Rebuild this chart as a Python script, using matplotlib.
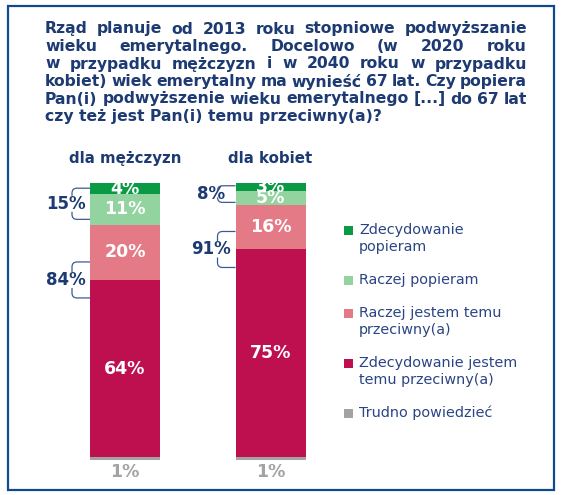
import matplotlib
matplotlib.use("Agg")
import matplotlib.pyplot as plt
from matplotlib.patches import Rectangle, PathPatch
from matplotlib.path import Path

# ---------------- data ----------------
groups = ["dla mężczyzn", "dla kobiet"]
strongly_support = [4, 3]
rather_support = [11, 5]
rather_against = [20, 16]
strongly_against = [64, 75]
hard_to_say = [1, 1]
support_total = [15, 8]
against_total = [84, 91]

legend_labels = ["Zdecydowanie\npopieram", "Raczej popieram",
                 "Raczej jestem temu\nprzeciwny(a)",
                 "Zdecydowanie jestem\ntemu przeciwny(a)", "Trudno powiedzieć"]

title_lines = [
    "Rząd planuje od 2013 roku stopniowe podwyższanie",
    "wieku emerytalnego. Docelowo (w 2020 roku",
    "w przypadku mężczyzn i w 2040 roku w przypadku",
    "kobiet) wiek emerytalny ma wynieść 67 lat. Czy popiera",
    "Pan(i) podwyższenie wieku emerytalnego [...] do 67 lat",
    "czy też jest Pan(i) temu przeciwny(a)?",
]

# ---------------- style ----------------
W, H, DPI = 563, 495, 100
C_DGREEN = "#0A9A46"
C_LGREEN = "#93D3A0"
C_PINK = "#E37A86"
C_CRIMSON = "#BE0F4E"
C_GRAY = "#A3A3A3"
NAVY = "#1D3B72"
LEG_TXT = "#2B4584"

plt.rcParams['font.family'] = ['DejaVu Sans']

fig = plt.figure(figsize=(W / DPI, H / DPI), dpi=DPI)
fig.patch.set_facecolor("white")


def fx(x):
    return x / W


def fy(y):
    return 1 - y / H


# frame
fig.add_artist(Rectangle((fx(8), fy(490)), (554 - 8) / W, (490 - 6) / H,
                         transform=fig.transFigure, fill=False,
                         edgecolor="#0E4A8E", lw=1.6))

# axes: bars from pixel y 183 (100%) to 460 (0%)
ax_left, ax_right = 40, 330
ax_top, ax_bot = 183, 460
ax = fig.add_axes([fx(ax_left), fy(ax_bot), (ax_right - ax_left) / W,
                   (ax_bot - ax_top) / H])
px_per_unit = 145.5
c0 = 125
ax.set_xlim(-(c0 - ax_left) / px_per_unit, (ax_right - c0) / px_per_unit)
ax.set_ylim(0, 100)
ax.axis("off")

x = [0, 1]
bw = 70 / px_per_unit
stack = [(hard_to_say, C_GRAY), (strongly_against, C_CRIMSON),
         (rather_against, C_PINK), (rather_support, C_LGREEN),
         (strongly_support, C_DGREEN)]
bottoms = [0, 0]
seg_bounds = []
for vals, col in stack:
    ax.bar(x, vals, width=bw, bottom=bottoms, color=col, edgecolor="none")
    seg_bounds.append([(b, b + v) for b, v in zip(bottoms, vals)])
    bottoms = [b + v for b, v in zip(bottoms, vals)]

# in-bar labels (skip the gray 1% one)
for si, (vals, col) in enumerate(stack):
    if si == 0:
        continue
    for i in range(2):
        lo, hi = seg_bounds[si][i]
        ax.text(x[i], (lo + hi) / 2, f"{vals[i]}%", ha="center", va="center",
                color="white", fontsize=12.5, fontweight="bold", clip_on=False)

# 1% labels below bars
for i in range(2):
    ax.annotate(f"{hard_to_say[i]}%", xy=(x[i], 0), xytext=(0, -12),
                textcoords="offset pixels", ha="center", va="center",
                color=C_GRAY, fontsize=12.5, fontweight="bold",
                annotation_clip=False)

# group titles
for i in range(2):
    ax.annotate(groups[i], xy=(x[i], 100), xytext=(0, 24),
                textcoords="offset pixels", ha="center", va="center",
                color=NAVY, fontsize=10.8, fontweight="bold",
                annotation_clip=False)


# brackets
def bracket(i, center, half_px, label):
    xl_d, yc_d = ax.transData.transform((x[i] - bw / 2, center))
    yt = yc_d + half_px
    yb = yc_d - half_px
    xc = xl_d - 18
    r = 5
    gap = 8
    verts = [(xl_d, yt), (xc + r, yt), (xc, yt), (xc, yt - r)]
    codes = [Path.MOVETO, Path.LINETO, Path.CURVE3, Path.CURVE3]
    if yt - r > yc_d + gap:
        verts.append((xc, yc_d + gap))
        codes.append(Path.LINETO)
    verts2 = [(xl_d, yb), (xc + r, yb), (xc, yb), (xc, yb + r)]
    codes2 = [Path.MOVETO, Path.LINETO, Path.CURVE3, Path.CURVE3]
    if yb + r < yc_d - gap:
        verts2.append((xc, yc_d - gap))
        codes2.append(Path.LINETO)
    for v, c in ((verts, codes), (verts2, codes2)):
        fig.add_artist(PathPatch(Path(v, c), transform=None, fill=False,
                                 edgecolor="#3F5A92", lw=0.9))
    ax.annotate(label, xy=(x[i] - bw / 2, center), xytext=(-24, 0),
                textcoords="offset pixels", ha="center", va="center",
                color=NAVY, fontsize=12, fontweight="bold",
                annotation_clip=False)


for i in range(2):
    lo = seg_bounds[3][i][0]
    hi = seg_bounds[4][i][1]
    sup_px = (hi - lo) * (ax_bot - ax_top) / 100
    bracket(i, (lo + hi) / 2, sup_px / 2 * 0.75, f"{support_total[i]}%")
    boundary = seg_bounds[1][i][1]
    bracket(i, boundary, 18, f"{against_total[i]}%")

# legend (manual, squares aligned with first line)
leg_colors = [C_DGREEN, C_LGREEN, C_PINK, C_CRIMSON, C_GRAY]
y = 230
for lab, col in zip(legend_labels, leg_colors):
    fig.add_artist(Rectangle((fx(344), fy(y + 4.5)), 9 / W, 9 / H,
                             transform=fig.transFigure, color=col, lw=0))
    lines = lab.split("\n")
    for k, ln in enumerate(lines):
        fig.text(fx(359), fy(y + 17 * k), ln, ha="left", va="center",
                 color=LEG_TXT, fontsize=10.4)
    y += 17 * (len(lines) - 1) + 33

# justified title
fig.canvas.draw()
rend = fig.canvas.get_renderer()
left, right = 45, 527


def width_of(s, fs):
    t = fig.text(0, 0, s, color=NAVY, fontsize=fs, fontweight="bold")
    w = t.get_window_extent(rend).width
    t.remove()
    return w


fs = 11.5
while fs > 8:
    ok = True
    for line in title_lines[:-1]:
        words = line.split(" ")
        tot = sum(width_of(w, fs) for w in words)
        if (right - left - tot) / (len(words) - 1) < 4:
            ok = False
            break
    if ok:
        break
    fs -= 0.25

tkw = dict(color=NAVY, fontsize=fs, fontweight="bold", va="center", ha="left")
for li, line in enumerate(title_lines):
    yy = 29 + 17.5 * li
    if li == len(title_lines) - 1:
        fig.text(fx(left), fy(yy), line, **tkw)
        continue
    words = line.split(" ")
    ws = [width_of(w, fs) for w in words]
    gap = (right - left - sum(ws)) / (len(words) - 1)
    xx = left
    for w, wd in zip(words, ws):
        fig.text(fx(xx), fy(yy), w, **tkw)
        xx += wd + gap

fig.savefig("out.png", dpi=DPI)
